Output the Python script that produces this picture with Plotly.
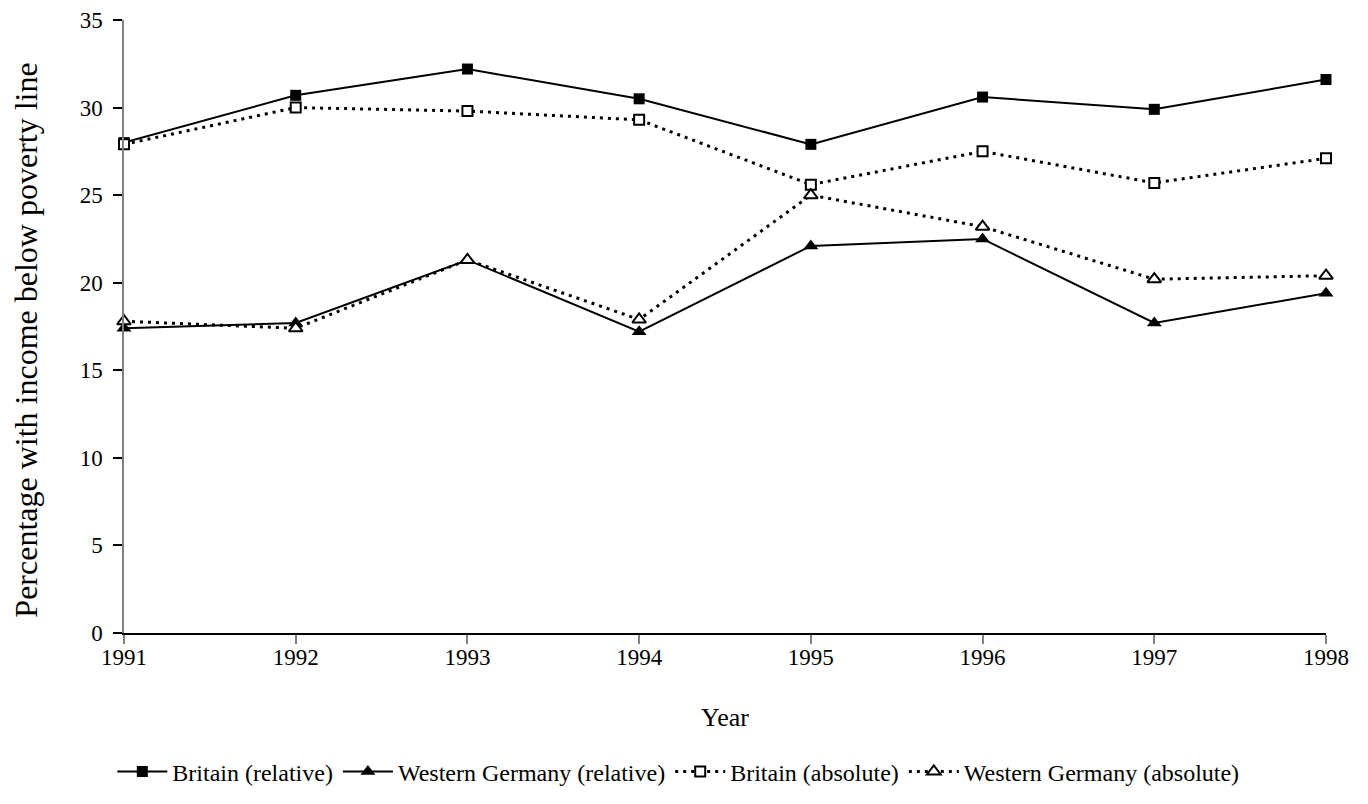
import plotly.graph_objects as go

years = [1991, 1992, 1993, 1994, 1995, 1996, 1997, 1998]
britain_relative = [28.0, 30.7, 32.2, 30.5, 27.9, 30.6, 29.9, 31.6]
wgermany_relative = [17.4, 17.7, 21.3, 17.2, 22.1, 22.5, 17.7, 19.4]
britain_absolute = [27.9, 30.0, 29.8, 29.3, 25.6, 27.5, 25.7, 27.1]
wgermany_absolute = [17.8, 17.4, 21.3, 17.9, 25.0, 23.2, 20.2, 20.4]

FONT = "Liberation Serif, Times New Roman, serif"

fig = go.Figure()
fig.add_trace(go.Scatter(
    x=years, y=britain_relative, name="Britain (relative)", mode="lines+markers",
    line=dict(color="black", width=2),
    marker=dict(symbol="square", size=11, color="black"), cliponaxis=False))
fig.add_trace(go.Scatter(
    x=years, y=wgermany_relative, name="Western Germany (relative)", mode="lines+markers",
    line=dict(color="black", width=2),
    marker=dict(symbol="triangle-up", size=13, color="black"), cliponaxis=False))
fig.add_trace(go.Scatter(
    x=years, y=britain_absolute, name="Britain (absolute)", mode="lines+markers",
    line=dict(color="black", width=3, dash="3px,5px"),
    marker=dict(symbol="square", size=10, color="white", line=dict(color="black", width=2)),
    cliponaxis=False))
fig.add_trace(go.Scatter(
    x=years, y=wgermany_absolute, name="Western Germany (absolute)", mode="lines+markers",
    line=dict(color="black", width=3, dash="3px,5px"),
    marker=dict(symbol="triangle-up", size=12, color="white", line=dict(color="black", width=2)),
    cliponaxis=False))

fig.update_layout(
    width=1368, height=804,
    margin=dict(l=116, r=50, t=12, b=179, autoexpand=False),
    paper_bgcolor="white", plot_bgcolor="white",
    font=dict(family=FONT, size=23, color="black"),
    showlegend=True,
    legend=dict(orientation="h", x=0.49, xanchor="center", xref="container",
                y=0.05, yanchor="middle", yref="container",
                font=dict(family=FONT, size=24), itemwidth=50, tracegroupgap=0),
    annotations=[dict(text="Percentage with income below poverty line",
                      textangle=-90, xref="paper", yref="paper",
                      x=-0.0815, xanchor="center", y=0.021, yanchor="bottom",
                      showarrow=False, font=dict(family=FONT, size=32))],
)
fig.update_xaxes(
    range=[1991, 1998], tickmode="array", tickvals=years,
    ticktext=[str(y) for y in years], automargin=False, ticklabeloverflow="allow",
    showline=True, linecolor="black", linewidth=1.5,
    ticks="outside", ticklen=9, tickcolor="#808080", tickwidth=1.5,
    showgrid=False, zeroline=False, tickfont=dict(size=23), ticklabelstandoff=-6,
    title=dict(text="Year", font=dict(family=FONT, size=26), standoff=38),
)
fig.update_yaxes(
    range=[0, 35], dtick=5, tick0=0, automargin=False, ticklabeloverflow="allow",
    showline=True, linecolor="#808080", linewidth=1.5,
    ticks="outside", ticklen=9, tickcolor="black", tickwidth=1.5,
    showgrid=False, zeroline=False, ticklabelstandoff=6, tickfont=dict(size=23),
)

fig.write_html("out.html")
